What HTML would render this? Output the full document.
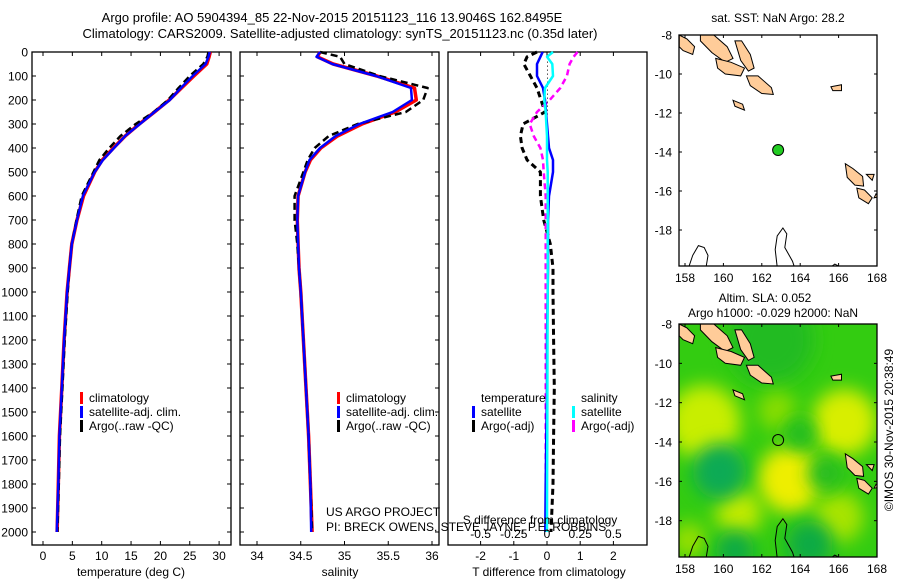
<!DOCTYPE html>
<html><head><meta charset="utf-8"><style>
html,body{margin:0;padding:0;background:#fff;}
svg{display:block;font-family:"Liberation Sans",sans-serif;}
text{font-size:12px;fill:#000;}
</style></head><body>
<svg id="chart" width="900" height="580" viewBox="0 0 900 580" xmlns="http://www.w3.org/2000/svg">
<text x="332" y="22" text-anchor="middle" style="font-size:13px">Argo profile: AO 5904394_85 22-Nov-2015 20151123_116 13.9046S 162.8495E</text>
<text x="340" y="38" text-anchor="middle" style="font-size:13px">Climatology: CARS2009. Satellite-adjusted climatology: synTS_20151123.nc (0.35d later)</text>
<g id="p1"></g>
<g id="p2"></g>
<g id="p3"></g>
<g id="m1"></g>
<g id="m2"></g>
<text transform="translate(893,430) rotate(-90)" text-anchor="middle">©IMOS 30-Nov-2015 20:38:49</text>
</svg>
<script>
const depths   = [0,20,50,100,150,200,250,300,350,400,450,500,600,700,800,900,1000,1200,1400,1600,1800,2000];
const tempClim = [28.5,28.3,27.9,25.7,23.6,21.5,19.0,16.4,14.0,12.0,10.1,8.8,6.9,5.8,4.9,4.5,4.1,3.6,3.2,2.8,2.6,2.4];
const tempSat  = [28.4,28.2,27.7,25.5,23.5,21.6,19.0,16.5,14.0,12.1,10.2,8.8,6.8,5.8,4.9,4.5,4.1,3.6,3.2,2.8,2.6,2.35];
const tempArgo = [28.2,28.0,27.3,25.0,23.1,21.3,18.9,15.8,13.2,11.3,9.6,8.6,6.6,5.7,4.9,4.5,4.2,3.7,3.3,2.9,2.7,2.45];
const salClim  = [34.72,34.69,34.87,35.37,35.80,35.82,35.58,35.20,34.92,34.73,34.61,34.55,34.47,34.46,34.47,34.48,34.50,34.53,34.56,34.59,34.61,34.63];
const salSat   = [34.72,34.68,34.86,35.36,35.76,35.77,35.55,35.17,34.90,34.72,34.60,34.55,34.47,34.46,34.47,34.48,34.50,34.53,34.56,34.59,34.61,34.62];
const salArgo  = [34.72,34.95,35.00,35.40,35.95,35.90,35.70,35.15,34.82,34.66,34.58,34.53,34.43,34.43,34.46,34.48,34.50,34.53,34.56,34.59,34.61,34.63];
const tDiffSat = [-0.13,-0.2,-0.3,-0.3,-0.12,-0.06,-0.03,0.0,0.03,0.06,0.18,0.18,0.06,0.03,0.03,0.03,0.02,0.0,0.0,-0.02,-0.04,-0.05];
const tDiffArgo= [-0.3,-0.6,-0.7,-0.5,-0.3,-0.18,-0.06,-0.72,-0.8,-0.75,-0.6,-0.2,-0.2,-0.1,0.1,0.18,0.18,0.2,0.22,0.2,0.18,0.12];
const sDiffSat = [0.045,0.0,0.04,0.045,-0.015,-0.02,-0.01,-0.005,0.0,0.0,0.0,0.005,0.005,0.005,0.005,0.005,0.005,0.004,0.003,0.002,0.001,0.0];
const sDiffArgo= [0.23,0.2,0.17,0.15,0.1,0.02,-0.075,-0.13,-0.1,-0.05,-0.03,-0.025,-0.01,-0.01,-0.01,-0.01,-0.01,-0.01,-0.01,-0.01,-0.01,-0.01];
const depthTicks = [0,100,200,300,400,500,600,700,800,900,1000,1100,1200,1300,1400,1500,1600,1700,1800,1900,2000];
const tempTicks = [0,5,10,15,20,25,30];
const salTicks = [34,34.5,35,35.5,36];
const salTickLabels = ["34","34.5","35","35.5","36"];
const tDiffTicks = [-2,-1,0,1,2];
const sDiffTicks = [-0.5,-0.25,0,0.25,0.5];
const sDiffLabels = ["-0.5","-0.25","0","0.25","0.5"];
const mapLonTicks = [158,160,162,164,166,168];
const mapLatTicks = [-8,-10,-12,-14,-16,-18];
const floatLon = 162.85, floatLat = -13.9;

const NS="http://www.w3.org/2000/svg";
function mk(parent,tag,attrs,txt){const e=document.createElementNS(NS,tag);for(const k in attrs)e.setAttribute(k,attrs[k]);if(txt!==undefined)e.textContent=txt;parent.appendChild(e);return e;}
const Y=d=>52+d*0.24;
const TOP=52,BOT=545;

function panel(g,x0,x1,xs,ticks,labels,showDepthLabels,leftTicks){
  const r=mk(g,'rect',{x:x0,y:TOP,width:x1-x0,height:BOT-TOP,fill:'none',stroke:'#000','stroke-width':1.3});
  
  
  depthTicks.forEach(d=>{
    if(leftTicks){mk(g,'line',{x1:x0,x2:x0+4,y1:Y(d),y2:Y(d),stroke:'#000'});
    mk(g,'line',{x1:x1-4,x2:x1,y1:Y(d),y2:Y(d),stroke:'#000'});}
    if(showDepthLabels){const t=mk(g,'text',{x:28,y:Y(d)+4.5,'text-anchor':'end'},String(d));
      
      }
  });
  ticks.forEach((v,i)=>{
    const x=xs(v);
    if(leftTicks){mk(g,'line',{x1:x,x2:x,y1:TOP,y2:TOP+4,stroke:'#000'});
    mk(g,'line',{x1:x,x2:x,y1:BOT-4,y2:BOT,stroke:'#000'});}
    if(labels){const t=mk(g,'text',{x:x,y:560,'text-anchor':'middle'},labels[i]);
      
      }
  });
}
function line(g,xs,vals,color,w,dash,name){
  const pts=vals.map((v,i)=>xs(v).toFixed(1)+','+Y(depths[i]).toFixed(1)).join(' ');
  const a={points:pts,fill:'none',stroke:color,'stroke-width':w,'stroke-linejoin':'round'};
  if(dash)a['stroke-dasharray']=dash;
  const p=mk(g,'polyline',a);
  
  
}
function legItem(g,x,y,color,label,name){
  mk(g,'rect',{x:x,y:y-10,width:3,height:12,fill:color});
  const t=mk(g,'text',{x:x+9,y:y},label);
  
  
}

const p1=document.getElementById('p1');
const xT=v=>43+v*5.87;
panel(p1,32,231,xT,tempTicks,tempTicks.map(String),true,true);
line(p1,xT,tempClim,'#ff0000',3.5,null,'temp-climatology-line');
line(p1,xT,tempArgo,'#000',2.5,'7,4','temp-argo-line');
line(p1,xT,tempSat,'#0000ff',2.5,null,'temp-satellite-line');
mk(p1,'text',{x:131,y:576,'text-anchor':'middle'},'temperature (deg C)');
legItem(p1,80,402,'#ff0000','climatology','legend-climatology');
legItem(p1,80,416,'#0000ff','satellite-adj. clim.','legend-satellite');
legItem(p1,80,430,'#000','Argo(..raw -QC)','legend-argo');

const p2=document.getElementById('p2');
const xS=v=>257+(v-34)*87.5;
panel(p2,240,439,xS,salTicks,salTickLabels,false,true);
line(p2,xS,salClim,'#ff0000',3.5,null,'sal-climatology-line');
line(p2,xS,salArgo,'#000',2.5,'7,4','sal-argo-line');
line(p2,xS,salSat,'#0000ff',2.5,null,'sal-satellite-line');
mk(p2,'text',{x:340,y:576,'text-anchor':'middle'},'salinity');
legItem(p2,337,402,'#ff0000','climatology','legend-climatology');
legItem(p2,337,416,'#0000ff','satellite-adj. clim.','legend-satellite');
legItem(p2,337,430,'#000','Argo(..raw -QC)','legend-argo');

const p3=document.getElementById('p3');
const xTD=v=>547+v*33.2;
const xSD=v=>547+v*132.8;
panel(p3,448,647,xTD,tDiffTicks,tDiffTicks.map(String),false,false);
tDiffTicks.forEach(v=>{mk(p3,'line',{x1:xTD(v),x2:xTD(v),y1:TOP,y2:TOP+4,stroke:'#000'});mk(p3,'line',{x1:xTD(v),x2:xTD(v),y1:BOT-4,y2:BOT,stroke:'#000'});});
mk(p3,'line',{x1:547.5,x2:547.5,y1:Y(40),y2:Y(260),stroke:'#000','stroke-dasharray':'1,3'});
line(p3,xTD,tDiffArgo,'#000',3,'6,4','tdiff-argo-line');
line(p3,xSD,sDiffArgo,'#ff00ff',2.5,'6,4','sdiff-argo-line');
line(p3,xTD,tDiffSat,'#0000ff',2.5,null,'tdiff-satellite-line');
line(p3,xSD,sDiffSat,'#00ffff',2.5,null,'sdiff-satellite-line');
sDiffTicks.forEach((v,i)=>{const t=mk(p3,'text',{x:xSD(v),y:538,'text-anchor':'middle'},sDiffLabels[i]);
  
  });
mk(p3,'text',{x:540,y:524,'text-anchor':'middle'},'S difference from climatology');
mk(p3,'text',{x:549,y:576,'text-anchor':'middle'},'T difference from climatology');
mk(p3,'text',{x:481,y:402},'temperature');
mk(p3,'text',{x:581,y:402},'salinity');
legItem(p3,472,416,'#0000ff','satellite','legend-t-satellite');
legItem(p3,472,430,'#000','Argo(-adj)','legend-t-argo');
legItem(p3,572,416,'#00ffff','satellite','legend-s-satellite');
legItem(p3,572,430,'#ff00ff','Argo(-adj)','legend-s-argo');
mk(p3,'text',{x:326,y:516},'US ARGO PROJECT');
mk(p3,'text',{x:326,y:531},'PI: BRECK OWENS, STEVE JAYNE, P.E. ROBBINS');

const islands=[
 [[157.7,-8.0],[158.1,-8.2],[158.5,-8.6],[158.4,-9.0],[157.9,-8.8],[157.7,-8.6]],
 [[158.8,-8.0],[159.5,-8.0],[160.2,-8.6],[160.5,-9.2],[160.1,-9.4],[159.4,-8.9],[158.8,-8.3]],
 [[159.6,-9.2],[160.4,-9.4],[161.1,-9.7],[160.9,-10.1],[160.1,-10.0],[159.7,-9.7]],
 [[160.6,-8.3],[160.95,-8.3],[161.4,-9.0],[161.6,-9.7],[161.3,-9.85],[160.9,-9.3]],
 [[161.2,-10.1],[161.8,-10.1],[162.5,-10.7],[162.6,-11.05],[162.0,-11.0],[161.4,-10.6]],
 [[160.5,-11.35],[161.0,-11.55],[161.1,-11.85],[160.6,-11.65]],
 [[165.6,-10.65],[166.15,-10.55],[166.15,-10.85],[165.7,-10.85]],
 [[166.35,-14.6],[166.75,-14.85],[167.25,-15.25],[167.3,-15.75],[166.85,-15.7],[166.45,-15.3]],
 [[166.95,-15.85],[167.35,-15.95],[167.75,-16.35],[167.55,-16.65],[167.05,-16.35]],
 [[167.45,-15.15],[167.85,-15.15],[167.75,-15.45]],
 [[167.95,-16.15],[168.1,-16.3],[167.85,-16.35]]
];
const reefs=[
 [[162.8,-19.9],[162.7,-19.0],[162.8,-18.3],[163.1,-17.9],[163.3,-18.2],[163.2,-18.9],[163.6,-19.6],[163.7,-19.9]],
 [[158.2,-19.9],[158.4,-19.3],[158.7,-18.8],[159.0,-18.9],[159.2,-19.3],[159.1,-19.9]],
 [[165.6,-19.9],[165.8,-19.75],[166.1,-19.9]]
];
function drawMap(g,y0,y1,colored){
  const x0=679,x1=877;
  const lx=v=>685+(v-158)*19.2;
  const ly=v=>y0+(-8-v)*19.5*(y1-y0)/231;
  const cid='clip'+y0;
  const cp=mk(g,'clipPath',{id:cid});mk(cp,'rect',{x:x0,y:y0,width:x1-x0,height:y1-y0});
  const inner=mk(g,'g',{'clip-path':'url(#'+cid+')'});
  if(colored){
    mk(inner,'rect',{x:x0,y:y0,width:x1-x0,height:y1-y0,fill:'#33cc11'});
    const defs=mk(g,'defs',{});
    const f=mk(defs,'filter',{id:'bl',x:'-50%',y:'-50%',width:'200%',height:'200%'});mk(f,'feGaussianBlur',{stdDeviation:9});
    const blobs=[[162.5,-8.8,2.2,'#22bb22'],[159.0,-13.0,1.9,'#c8ee00'],[163.5,-15.9,1.7,'#eeee00'],[166.3,-13.0,1.7,'#d8ee00'],[160.8,-17.6,1.2,'#c0ea00'],[166.0,-17.8,1.3,'#a8e400'],[162.8,-12.4,1.0,'#88dd00'],[158.2,-19.0,0.9,'#99e000'],[159.8,-15.5,1.4,'#11aa55'],[164.5,-19.2,1.2,'#11aa44'],[160.6,-19.5,1.0,'#11aa44'],[165.3,-15.6,0.9,'#22bb22'],[164.0,-13.6,0.8,'#22bb22']];
    blobs.forEach(b=>mk(inner,'ellipse',{cx:lx(b[0]),cy:ly(b[1]),rx:b[2]*19.2,ry:b[2]*19.5*(y1-y0)/231,fill:b[3],filter:'url(#bl)'}));
  }
  islands.forEach(p=>{const e=mk(inner,'polygon',{points:p.map(q=>lx(q[0]).toFixed(1)+','+ly(q[1]).toFixed(1)).join(' '),fill:'#ffcc99',stroke:'#000','stroke-width':1});
    
    });
  reefs.forEach(p=>mk(inner,'polyline',{points:p.map(q=>lx(q[0]).toFixed(1)+','+ly(q[1]).toFixed(1)).join(' '),fill:'none',stroke:'#000','stroke-width':1}));
  const dot=mk(g,'circle',{cx:lx(floatLon),cy:ly(floatLat),r:5.5,fill:colored?'none':'#22cc22',stroke:'#000','stroke-width':1});
  
  
  mk(g,'rect',{x:x0,y:y0,width:x1-x0,height:y1-y0,fill:'none',stroke:'#000','stroke-width':1.3});
  mapLonTicks.forEach(v=>{mk(g,'line',{x1:lx(v),x2:lx(v),y1:y0,y2:y0+3,stroke:'#000'});mk(g,'line',{x1:lx(v),x2:lx(v),y1:y1-3,y2:y1,stroke:'#000'});
    const t=mk(g,'text',{x:lx(v),y:y1+16,'text-anchor':'middle'},String(v));
    
    });
  mapLatTicks.forEach(v=>{mk(g,'line',{x1:x0,x2:x0+3,y1:ly(v),y2:ly(v),stroke:'#000'});mk(g,'line',{x1:x1-3,x2:x1,y1:ly(v),y2:ly(v),stroke:'#000'});
    const t=mk(g,'text',{x:672,y:ly(v)+4.5,'text-anchor':'end'},String(v));
    
    });
}
const m1=document.getElementById('m1');
drawMap(m1,35,266,false);
mk(m1,'text',{x:778,y:22,'text-anchor':'middle'},'sat. SST: NaN Argo: 28.2');
const m2=document.getElementById('m2');
drawMap(m2,324,557,true);
mk(m2,'text',{x:765,y:302,'text-anchor':'middle'},'Altim. SLA: 0.052');
mk(m2,'text',{x:773,y:317,'text-anchor':'middle'},'Argo h1000: -0.029 h2000: NaN');
</script>
</body></html>
